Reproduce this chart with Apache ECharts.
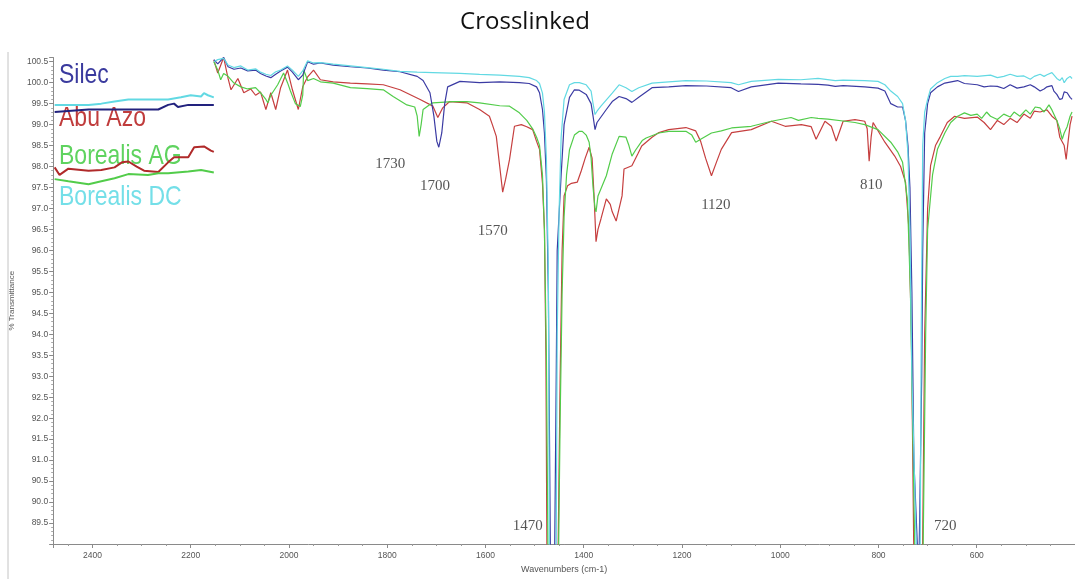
<!DOCTYPE html>
<html>
<head>
<meta charset="utf-8">
<title>Crosslinked</title>
<script src="https://cdn.jsdelivr.net/npm/echarts@6/dist/echarts.min.js"></script>
<style>
    html, body { margin: 0; padding: 0; background: #fff; }
    #chart { width: 1075px; height: 579px; }
</style>
</head>
<body>
<div id="chart"></div>
<script>
// 光谱数据 [波数 cm-1, %T]
const silec = [
    [2153, 100.55], [2145, 100.45], [2133, 100.6], [2124, 100.38], [2112, 100.32], [2098, 100.35],
    [2084, 100.28], [2068, 100.3], [2058, 100.22], [2047, 100.16], [2037, 100.12], [2027, 100.2],
    [2017, 100.28], [2003, 100.37], [1993, 100.25], [1981, 100.07], [1972, 100.18], [1962, 100.5],
    [1950, 100.44], [1936, 100.47], [1910, 100.42], [1875, 100.38], [1841, 100.35], [1808, 100.3],
    [1774, 100.26], [1739, 100.15], [1727, 100.05], [1713, 99.76], [1705, 99.2], [1699, 98.6],
    [1695, 98.46], [1689, 98.8], [1683, 99.5], [1677, 99.9], [1652, 100.03], [1612, 100.0],
    [1571, 100.02], [1531, 100.0], [1511, 99.98], [1496, 99.9], [1490, 99.76], [1484, 99.36],
    [1480, 98.8], [1476, 97.7], [1472, 95], [1468, 89.0], [1463.5, 85], [1459, 89.0], [1456, 93],
    [1454, 96], [1446, 97.8], [1440, 99.0], [1429, 99.65], [1419, 99.83], [1409, 99.82],
    [1395, 99.72], [1385, 99.5], [1381, 99.2], [1377, 98.88], [1373, 99.05], [1354, 99.36],
    [1342, 99.55], [1328, 99.67], [1314, 99.62], [1302, 99.53], [1288, 99.65], [1261, 99.88],
    [1227, 99.9], [1192, 99.93], [1150, 99.92], [1100, 99.88], [1085, 99.79], [1059, 99.9],
    [1004, 99.99], [958, 99.97], [923, 99.96], [903, 99.94], [888, 99.91], [872, 99.93],
    [828, 99.9], [801, 99.87], [787, 99.8], [775, 99.5], [761, 99.42], [751, 99.42], [745, 99.1],
    [740, 98.5], [736, 97.5], [732, 95], [728, 91], [721, 89.0], [719, 85], [717, 89.0],
    [712, 93], [710, 96], [706, 98.8], [700, 99.5], [694, 99.76], [680, 99.9], [665, 99.99],
    [639, 100.05], [625, 99.98], [599, 99.95], [585, 99.9], [572, 99.92], [558, 99.91],
    [545, 99.86], [532, 99.95], [518, 99.87], [504, 99.9], [491, 99.95], [483, 99.9],
    [471, 99.8], [463, 99.85], [457, 99.9], [447, 99.93], [443, 99.8], [437, 99.72],
    [431, 99.6], [426, 99.62], [422, 99.78], [416, 99.76], [410, 99.65], [406, 99.6]
]
const abuAzo = [
    [2153, 100.54], [2145, 100.23], [2133, 100.6], [2124, 100.1], [2118, 99.83], [2104, 100.1],
    [2092, 99.76], [2078, 99.85], [2068, 99.7], [2058, 99.78], [2047, 99.36], [2037, 99.76],
    [2027, 99.36], [2017, 99.88], [2003, 100.3], [1993, 99.83], [1981, 99.36], [1972, 99.9],
    [1962, 100.14], [1950, 100.3], [1936, 100.07], [1910, 100.02], [1875, 99.99], [1841, 99.97],
    [1808, 99.95], [1774, 99.83], [1733, 99.6], [1707, 99.44], [1697, 99.17], [1687, 99.4],
    [1673, 99.55], [1638, 99.52], [1612, 99.36], [1592, 99.2], [1586, 99.0], [1578, 98.72],
    [1571, 98.0], [1565, 97.39], [1559, 97.7], [1551, 98.17], [1541, 98.96], [1527, 99.0],
    [1516, 98.95], [1504, 98.88], [1496, 98.6], [1490, 98.41], [1484, 97.6], [1480, 96.5],
    [1477, 93.5], [1475, 89.0], [1463, 85], [1452, 89.0], [1448, 93], [1444, 96], [1440, 97.3],
    [1433, 97.54], [1425, 97.6], [1413, 97.63], [1405, 97.9], [1397, 98.2], [1389, 98.46],
    [1383, 98.2], [1379, 97.3], [1375, 96.21], [1371, 96.5], [1365, 96.75], [1354, 97.23],
    [1346, 97.1], [1342, 96.92], [1334, 96.7], [1330, 96.68], [1322, 97.3], [1318, 97.94],
    [1302, 98.02], [1290, 98.3], [1282, 98.49], [1261, 98.7], [1247, 98.81], [1227, 98.88],
    [1192, 98.93], [1172, 98.85], [1162, 98.6], [1152, 98.2], [1140, 97.78], [1130, 98.1],
    [1120, 98.41], [1099, 98.81], [1059, 98.88], [1018, 99.08], [990, 98.96], [957, 99.0],
    [937, 98.95], [927, 98.65], [909, 99.08], [896, 98.96], [886, 98.61], [872, 99.08],
    [848, 99.12], [828, 99.08], [823, 98.9], [819, 98.13], [815, 98.7], [811, 99.05],
    [787, 98.58], [767, 98.25], [755, 98.0], [745, 97.63], [738, 96.5], [733, 94], [728.3, 89.0],
    [719, 85], [710.1, 89.0], [706, 94], [700, 97], [694, 98.02], [684, 98.5], [674, 98.72],
    [660, 99.05], [645, 99.2], [625, 99.15], [599, 99.18], [585, 99.05], [572, 98.88],
    [558, 99.1], [545, 99.0], [532, 99.15], [518, 99.05], [504, 99.25], [491, 99.15],
    [483, 99.32], [471, 99.3], [457, 99.35], [447, 99.2], [437, 99.1], [431, 98.7],
    [422, 98.5], [418, 98.17], [414, 98.6], [410, 99.0], [406, 99.2]
]
const borealisAG = [
    [2153, 100.5], [2145, 100.3], [2139, 100.07], [2133, 100.22], [2124, 100.15], [2112, 99.99],
    [2098, 99.9], [2084, 99.85], [2068, 99.88], [2058, 99.76], [2047, 99.6], [2043, 99.52],
    [2037, 99.7], [2023, 99.95], [2011, 100.23], [2003, 100.0], [1997, 99.8], [1987, 99.5],
    [1977, 99.43], [1972, 99.7], [1970, 100.3], [1962, 100.05], [1950, 100.1], [1936, 100.02],
    [1910, 99.99], [1875, 99.88], [1841, 99.86], [1808, 99.83], [1788, 99.67], [1760, 99.47],
    [1744, 99.42], [1739, 99.2], [1735, 98.72], [1731, 99.0], [1727, 99.36], [1713, 99.48],
    [1707, 99.52], [1667, 99.55], [1638, 99.55], [1612, 99.52], [1571, 99.45], [1551, 99.44],
    [1531, 99.28], [1516, 99.1], [1504, 98.9], [1496, 98.7], [1490, 98.5], [1484, 97.8],
    [1480, 96.5], [1476, 93.5], [1473, 89.0], [1462, 85], [1451, 89.0], [1448, 92], [1444, 95],
    [1440, 96.8], [1435, 97.8], [1429, 98.4], [1419, 98.75], [1409, 98.84], [1403, 98.84],
    [1395, 98.75], [1389, 98.58], [1385, 98.2], [1381, 97.5], [1377, 97.0], [1375, 96.92],
    [1371, 97.3], [1354, 97.78], [1342, 98.3], [1328, 98.72], [1314, 98.7], [1308, 98.5],
    [1302, 98.25], [1294, 98.4], [1281, 98.62], [1273, 98.68], [1247, 98.8], [1227, 98.84],
    [1192, 98.84], [1180, 98.75], [1172, 98.58], [1162, 98.65], [1140, 98.8], [1120, 98.85],
    [1099, 98.92], [1059, 98.96], [1018, 99.08], [978, 99.17], [963, 99.1], [937, 99.17],
    [923, 99.15], [903, 99.13], [868, 99.08], [848, 99.05], [828, 99.0], [801, 98.88],
    [775, 98.58], [761, 98.35], [751, 98.1], [741, 97.2], [735, 95], [726.3, 89.0], [718, 85],
    [709, 89.0], [704, 94], [700, 96.5], [690, 97.8], [680, 98.41], [665, 98.8], [653, 99.05],
    [639, 99.2], [625, 99.28], [612, 99.22], [599, 99.25], [590, 99.15], [580, 99.3],
    [572, 99.2], [558, 99.12], [545, 99.25], [532, 99.18], [524, 99.3], [512, 99.2],
    [500, 99.35], [491, 99.25], [481, 99.42], [471, 99.4], [463, 99.3], [453, 99.47],
    [447, 99.35], [437, 99.1], [431, 98.9], [426, 98.65], [422, 98.8], [416, 98.95],
    [410, 99.2], [406, 99.3]
]
const borealisDC = [
    [2153, 100.5], [2145, 100.55], [2133, 100.58], [2124, 100.42], [2112, 100.36], [2098, 100.4],
    [2084, 100.3], [2068, 100.33], [2058, 100.25], [2047, 100.2], [2037, 100.17], [2027, 100.26],
    [2017, 100.3], [2003, 100.4], [1993, 100.3], [1981, 100.15], [1972, 100.28], [1962, 100.52],
    [1950, 100.47], [1936, 100.48], [1910, 100.44], [1875, 100.4], [1841, 100.36], [1808, 100.32],
    [1774, 100.27], [1739, 100.25], [1707, 100.24], [1652, 100.22], [1612, 100.2], [1571, 100.18],
    [1531, 100.15], [1511, 100.12], [1496, 100.05], [1490, 99.98], [1484, 99.75], [1480, 99.3],
    [1476, 98.2], [1472, 95.5], [1470, 89.0], [1463, 85], [1456, 89.0], [1454, 94], [1450, 97.0],
    [1446, 98.7], [1440, 99.6], [1429, 99.95], [1419, 100.0], [1409, 100.0], [1395, 99.95],
    [1385, 99.8], [1381, 99.5], [1377, 99.24], [1373, 99.32], [1365, 99.44], [1342, 99.75],
    [1328, 99.95], [1314, 99.88], [1302, 99.79], [1288, 99.88], [1261, 99.99], [1227, 100.02],
    [1192, 100.05], [1150, 100.04], [1100, 100.0], [1085, 99.95], [1059, 100.03], [1004, 100.08],
    [958, 100.07], [923, 100.1], [888, 100.05], [872, 100.06], [828, 100.05], [801, 100.03],
    [787, 99.95], [775, 99.8], [761, 99.67], [751, 99.5], [745, 99.1], [740, 98.3], [736, 96.5],
    [732, 93], [723.2, 89.0], [719, 85], [715.1, 89.0], [713, 94], [710, 98.5], [706, 99.3],
    [700, 99.6], [694, 99.85], [680, 100.0], [665, 100.1], [653, 100.15], [639, 100.15],
    [625, 100.17], [599, 100.15], [572, 100.18], [558, 100.12], [545, 100.15], [532, 100.2],
    [518, 100.15], [504, 100.16], [491, 100.08], [483, 100.15], [471, 100.2], [463, 100.15],
    [457, 100.19], [447, 100.24], [443, 100.2], [437, 100.1], [431, 100.05], [426, 100.12],
    [422, 100.0], [416, 100.1], [410, 100.15], [406, 100.1]
]

// 图例里的线段
const legendSilec = [[2477, 99.3], [2408, 99.36], [2300, 99.36], [2266, 99.36], [2246, 99.47], [2234, 99.5], [2226, 99.42], [2205, 99.47], [2153, 99.47]]
const legendAbuAzo = [[2477, 97.98], [2467, 97.8], [2449, 97.95], [2408, 97.9], [2382, 97.92], [2355, 97.98], [2340, 98.1], [2327, 98.12], [2310, 98.0], [2295, 97.9], [2266, 97.87], [2246, 98.1], [2234, 98.22], [2205, 98.22], [2193, 98.46], [2173, 98.48], [2159, 98.38], [2153, 98.35]]
const legendAG = [[2477, 97.7], [2449, 97.65], [2408, 97.58], [2382, 97.65], [2355, 97.72], [2327, 97.82], [2287, 97.8], [2266, 97.84], [2246, 97.84], [2205, 97.88], [2179, 97.92], [2153, 97.86]]
const legendDC = [[2477, 99.47], [2408, 99.47], [2382, 99.5], [2355, 99.55], [2327, 99.6], [2287, 99.6], [2246, 99.6], [2220, 99.65], [2200, 99.7], [2179, 99.67], [2173, 99.75], [2165, 99.7], [2153, 99.65]]

// 峰位标注
const peakLabels = ['1730', '1700', '1570', '1470', '1120', '810', '720']
const peakWn = [1794, 1703, 1585, 1514, 1131, 815, 664]
const peakT = [98.06, 97.54, 96.45, 89.43, 97.09, 97.55, 89.43]

const names = ['Silec', 'Abu Azo', 'Borealis AG', 'Borealis DC']
const colors = ['#3b3ba3', '#c63f3f', '#52cc4a', '#62d9e3']
const textColors = ['#3a3a9e', '#c03c3c', '#5fd35f', '#74dfe8']

const chart = echarts.init(document.getElementById('chart'))

function lineSeries(name, data, color, width) {
    return {
        name: name,
        type: 'line',
        data: data,
        showSymbol: false,
        symbol: 'none',
        silent: true,
        clip: true,
        lineStyle: { color: color, width: width },
        z: 3,
    }
}

const axisText = { color: '#555', fontSize: 8.5, fontFamily: 'Liberation Sans' }

const option = {
    animation: false,
    backgroundColor: '#fff',
    grid: { left: 51, right: -3, top: 57.5, bottom: 31 },
    xAxis: {
        type: 'value',
        inverse: true,
        min: 400,
        max: 2480,
        interval: 200,
        name: 'Wavenumbers (cm-1)',
        nameLocation: 'middle',
        nameGap: 21,
        nameTextStyle: { color: '#555', fontSize: 9, fontFamily: 'Liberation Sans' },
        axisLine: { lineStyle: { color: '#8a8a8a' } },
        axisTick: { length: 4, lineStyle: { color: '#8a8a8a' } },
        minorTick: { show: true, splitNumber: 4, length: 2, lineStyle: { color: '#999' } },
        axisLabel: Object.assign({
            margin: 7,
            showMinLabel: false,
            showMaxLabel: false,
            formatter: (v) => String(v),
        }, axisText),
        splitLine: { show: false },
    },
    yAxis: {
        type: 'value',
        min: 89,
        max: 100.6,
        interval: 0.5,
        name: '% Transmittance',
        nameLocation: 'middle',
        nameGap: 33,
        nameTextStyle: { color: '#555', fontSize: 8, fontFamily: 'Liberation Sans' },
        axisLine: { show: true, lineStyle: { color: '#8a8a8a' } },
        axisTick: { show: true, length: 4, lineStyle: { color: '#8a8a8a' } },
        minorTick: { show: true, splitNumber: 5, length: 2, lineStyle: { color: '#aaa' } },
        axisLabel: Object.assign({
            margin: 5,
            showMinLabel: false,
            showMaxLabel: false,
            formatter: (v) => v.toFixed(1),
        }, axisText),
        splitLine: { show: false },
    },
    series: [
        lineSeries(names[1], abuAzo, colors[1], 1.2),
        lineSeries(names[2], borealisAG, colors[2], 1.2),
        lineSeries(names[0], silec, colors[0], 1.2),
        lineSeries(names[3], borealisDC, colors[3], 1.2),
        //图例线段
        lineSeries('legend-dc', legendDC, colors[3], 2),
        lineSeries('legend-silec', legendSilec, '#22227e', 2),
        lineSeries('legend-abu', legendAbuAzo, '#b02a2a', 2),
        lineSeries('legend-ag', legendAG, colors[2], 2),
        {
            name: 'peaks',
            type: 'scatter',
            silent: true,
            symbolSize: 1,
            itemStyle: { color: 'rgba(0,0,0,0)' },
            data: peakLabels.map((t, i) => [peakWn[i], peakT[i], t]),
            label: {
                show: true,
                position: 'inside',
                formatter: (p) => p.data[2],
                color: '#2a2a2a',
                fontSize: 15,
                fontFamily: 'Liberation Serif',
            },
            z: 5,
        },
    ],
    graphic: [
        {
            type: 'text',
            x: 525,
            y: 22,
            style: {
                text: 'Crosslinked',
                fill: '#111',
                fontSize: 24,
                fontFamily: 'Open Sans',
                textAlign: 'center',
                textVerticalAlign: 'middle',
            },
        },
        {
            type: 'line',
            shape: { x1: 8, y1: 52, x2: 8, y2: 579 },
            style: { stroke: '#c4c4c4', lineWidth: 1 },
        },
    ].concat(names.map((n, i) => ({
        type: 'text',
        x: 59,
        y: [75, 118, 156, 197][i],
        scaleY: 1.22,
        z: 2,
        style: {
            text: n,
            fill: textColors[i],
            fontSize: 23,
            fontFamily: 'Liberation Sans',
            textAlign: 'left',
            textVerticalAlign: 'middle',
        },
    }))),
}

chart.setOption(option)
</script>
</body>
</html>
